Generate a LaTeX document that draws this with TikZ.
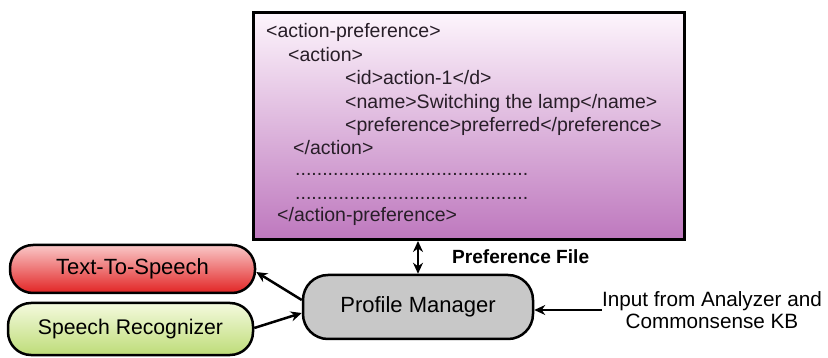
\documentclass[tikz,border=0pt]{standalone}
\usepackage{fontspec}
\setmainfont{Liberation Sans}
\usetikzlibrary{arrows.meta,calc}
\definecolor{boxtop}{RGB}{253,245,252}
\definecolor{boxbot}{RGB}{190,120,190}
\definecolor{ttstop}{RGB}{250,200,200}
\definecolor{ttsmid}{RGB}{236,80,80}
\definecolor{ttsbot}{RGB}{226,36,36}
\definecolor{srtop}{RGB}{244,250,222}
\definecolor{srbot}{RGB}{190,220,120}
\definecolor{pmfill}{RGB}{200,200,200}
\definecolor{txt}{RGB}{40,30,40}
\begin{document}
\begin{tikzpicture}[x=1pt,y=-1pt,
  xml/.style={anchor=base west, inner sep=0pt, font=\fontsize{19.5}{23}\selectfont, text=txt},
  pill/.style={draw=black, line width=2.5pt, rounded corners=23pt, minimum width=245pt, minimum height=48pt, inner sep=0pt},
  conn/.style={line width=2.5pt, -{Stealth[length=11pt,width=10pt]}},
  dbl/.style={line width=2.5pt, {Stealth[length=11pt,width=10pt]}-{Stealth[length=11pt,width=10pt]}}]
\useasboundingbox (0,0) rectangle (828,358);
\node[draw=black, line width=3pt, top color=boxtop, bottom color=boxbot, minimum width=431pt, minimum height=227pt, anchor=north west, inner sep=0pt] (box) at (252,11) {};
\node[xml] (l1) at (266,38) {<action-preference>};
\node[xml] (l2) at (288,62) {<action>};
\node[xml] (l3) at (345,85) {<id>action-1</d>};
\node[xml] (l4) at (345,109) {<name>Switching the lamp</name>};
\node[xml] (l5) at (345,132) {<preference>preferred</preference>};
\node[xml] (l6) at (293,155) {</action>};
\node[xml] (l7) at (295,176) {...........................................};
\node[xml] (l8) at (295,200) {...........................................};
\node[xml] (l9) at (277,222) {</action-preference>};
\node[draw=black, line width=2.5pt, fill=pmfill, rounded corners=25pt, minimum width=230pt, minimum height=64pt, inner sep=0pt, font=\fontsize{22}{26}\selectfont] (pm) at (418,307) {Profile Manager};
\node[pill, top color=ttstop, middle color=ttsmid, bottom color=ttsbot, font=\fontsize{22}{26}\selectfont] (tts) at (132.5,269) {Text-To-Speech};
\node[pill, top color=srtop, bottom color=srbot, minimum height=52pt, font=\fontsize{21.2}{25}\selectfont] (sr) at (130.5,329) {Speech Recognizer};
\node[font=\bfseries\fontsize{19.1}{23}\selectfont, anchor=base west, inner sep=0pt] (pf) at (452,264) {Preference File};
\node[align=center, font=\fontsize{20.7}{22}\selectfont, inner sep=0pt] (inp) at (712,310) {Input from Analyzer and\\Commonsense KB};
\draw[dbl] (box.south -| pm.north) -- (pm.north);
\draw[conn] ([yshift=7pt]pm.west) -- ([yshift=-3pt]tts.east);
\draw[conn] ([yshift=1pt]sr.east) -- ([yshift=-6pt]pm.west);
\draw[conn] (inp.west) -- (inp.west -| pm.east);
\end{tikzpicture}
\end{document}
